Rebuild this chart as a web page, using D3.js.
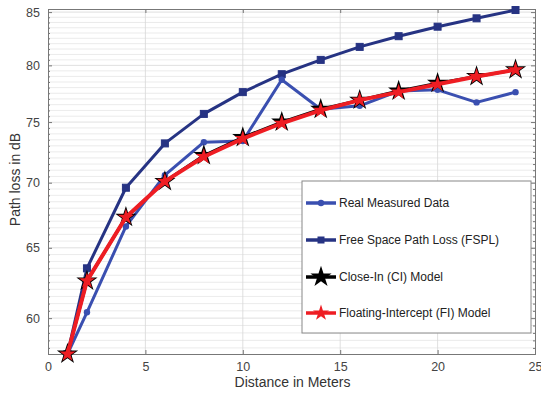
<!DOCTYPE html>
<html><head><meta charset="utf-8">
<script src="https://cdn.jsdelivr.net/npm/d3@7"></script>
<style>body{margin:0;background:#fff}svg{display:block;font-family:"Liberation Sans",Arial,sans-serif}</style>
</head><body><svg id="c" width="541" height="396"></svg>
<script>
const distance = [1, 2, 4, 6, 8, 10, 12, 14, 16, 18, 20, 22, 24];
const realMeasured = [57.6, 60.4, 66.6, 70.6, 73.3, 73.4, 78.7, 76.1, 76.4, 77.7, 77.8, 76.7, 77.6];
const fspl = [57.6, 63.5, 69.6, 73.2, 75.7, 77.6, 79.2, 80.5, 81.7, 82.7, 83.6, 84.4, 85.2];
const ciModel = [57.6, 62.6, 67.3, 70.1, 72.2, 73.7, 75.0, 76.1, 76.9, 77.7, 78.4, 79.0, 79.6];
const fiModel = [57.6, 62.6, 67.3, 70.1, 72.1, 73.6, 74.9, 76.0, 76.9, 77.6, 78.3, 79.0, 79.6];
const xTicks = [0, 5, 10, 15, 20, 25];
const yTicks = [60, 65, 70, 75, 80, 85];
const legendLabels = ["Real Measured Data", "Free Space Path Loss (FSPL)", "Close-In (CI) Model", "Floating-Intercept (FI) Model"];

const svg = d3.select("#c");
const L = 48, R = 535, T = 9, B = 354;
const x = d3.scaleLinear().domain([0, 25]).range([L, R]);
const y = d3.scaleLog().domain([57.6, 85.3]).range([B, T]);

svg.append("rect").attr("x", L).attr("y", T).attr("width", R - L).attr("height", B - T).attr("fill", "#fff");

// minor grid
const minor = d3.range(58, 85.3, 0.5).filter(v => v % 5 !== 0);
const g = svg.append("g");
g.selectAll(".mg").data(minor).join("line")
  .attr("x1", L).attr("x2", R).attr("y1", d => y(d)).attr("y2", d => y(d))
  .attr("stroke", "#e6e6e6").attr("stroke-width", 0.8);
g.selectAll(".hg").data(yTicks).join("line")
  .attr("x1", L).attr("x2", R).attr("y1", d => y(d)).attr("y2", d => y(d))
  .attr("stroke", "#d8d8d8").attr("stroke-width", 0.8);
g.selectAll(".vg").data(xTicks.slice(1, -1)).join("line")
  .attr("y1", T).attr("y2", B).attr("x1", d => x(d)).attr("x2", d => x(d))
  .attr("stroke", "#d8d8d8").attr("stroke-width", 0.8);

// axes
const ax = svg.append("g").attr("transform", `translate(0,${B})`)
  .call(d3.axisBottom(x).tickValues(xTicks).tickSize(-4).tickPadding(8).tickFormat(d3.format("d")));
const ay = svg.append("g").attr("transform", `translate(${L},0)`)
  .call(d3.axisLeft(y).tickValues(yTicks).tickSize(-4).tickPadding(8).tickFormat(d3.format("d")));
const ayMinor = svg.append("g").attr("transform", `translate(${L},0)`)
  .call(d3.axisLeft(y).tickValues(minor).tickSize(-2).tickFormat(""));
const ayR = svg.append("g").attr("transform", `translate(${R},0)`)
  .call(d3.axisRight(y).tickValues(yTicks).tickSize(-4).tickFormat(""));
const ayRm = svg.append("g").attr("transform", `translate(${R},0)`)
  .call(d3.axisRight(y).tickValues(minor).tickSize(-2).tickFormat(""));
const axT = svg.append("g").attr("transform", `translate(0,${T})`)
  .call(d3.axisTop(x).tickValues(xTicks).tickSize(-4).tickFormat(""));
[ax, ay, ayMinor, ayR, ayRm, axT].forEach(a => {
  a.selectAll("path").attr("stroke", "#777").attr("stroke-width", 1);
  a.selectAll("line").attr("stroke", "#777");
  a.selectAll("text").attr("fill", "#444").attr("font-size", 12.5).attr("font-family", "Liberation Sans, Arial, sans-serif");
});

svg.append("text").attr("x", (L + R) / 2 + 1).attr("y", 387).attr("text-anchor", "middle")
  .attr("font-size", 14).attr("fill", "#333").text("Distance in Meters");
svg.append("text").attr("transform", `translate(20,${(T + B) / 2 - 2}) rotate(-90)`).attr("text-anchor", "middle")
  .attr("font-size", 14).attr("fill", "#333").text("Path loss in dB");

const cReal = "#3a4fb0", cFspl = "#263383", cRed = "#ee1d23";
const line = vals => d3.line().x((d, i) => x(distance[i])).y(d => y(d))(vals);
const plot = svg.append("g");

function series(vals, color, width) {
  plot.append("path").attr("d", line(vals)).attr("fill", "none").attr("stroke", color)
    .attr("stroke-width", width).attr("stroke-linejoin", "round");
}
series(fspl, cFspl, 3);
plot.selectAll(".fs").data(fspl).join("rect")
  .attr("x", (d, i) => x(distance[i]) - 3.5).attr("y", d => y(d) - 3.5)
  .attr("width", 7).attr("height", 7).attr("fill", cFspl).attr("stroke", cFspl);
series(realMeasured, cReal, 3);
plot.selectAll(".rm").data(realMeasured).join("circle")
  .attr("cx", (d, i) => x(distance[i])).attr("cy", d => y(d)).attr("r", 3.2).attr("fill", cReal);
series(ciModel, "#000", 3);
const bigStar = d3.symbol().type(d3.symbolStar).size(140)();
const smallStar = d3.symbol().type(d3.symbolStar).size(80)();
plot.selectAll(".ci").data(ciModel).join("path")
  .attr("transform", (d, i) => `translate(${x(distance[i])},${y(d)})`).attr("d", bigStar).attr("fill", "#000");
series(fiModel, cRed, 4);
plot.selectAll(".fi").data(fiModel).join("path")
  .attr("transform", (d, i) => `translate(${x(distance[i])},${y(d)})`).attr("d", smallStar).attr("fill", cRed);

// legend
const lg = svg.append("g");
lg.append("rect").attr("x", 302).attr("y", 181).attr("width", 229).attr("height", 152)
  .attr("fill", "#fff").attr("stroke", "#888").attr("stroke-width", 1);
const ly = [203, 240, 277, 313];
const lcol = [cReal, cFspl, "#000", cRed];
legendLabels.forEach((t, i) => {
  lg.append("line").attr("x1", 306).attr("x2", 336).attr("y1", ly[i]).attr("y2", ly[i])
    .attr("stroke", lcol[i]).attr("stroke-width", 3.5);
  const cx = 321;
  if (i === 0) lg.append("circle").attr("cx", cx).attr("cy", ly[i]).attr("r", 3.2).attr("fill", cReal);
  if (i === 1) lg.append("rect").attr("x", cx - 3.5).attr("y", ly[i] - 3.5).attr("width", 7).attr("height", 7).attr("fill", cFspl);
  if (i === 2) lg.append("path").attr("transform", `translate(${cx},${ly[i]})`).attr("d", bigStar).attr("fill", "#000");
  if (i === 3) lg.append("path").attr("transform", `translate(${cx},${ly[i]})`).attr("d", smallStar).attr("fill", cRed);
  lg.append("text").attr("x", 339).attr("y", ly[i] + 4).attr("font-size", 12).attr("fill", "#222").text(t);
});
</script></body></html>
